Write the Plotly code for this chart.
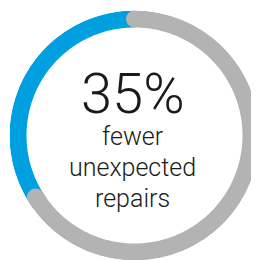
import numpy as np
import plotly.graph_objects as go

# Data
headline_value = 35          # percent
remainder_value = 100 - headline_value
headline_label = "35%"
caption_lines = ["fewer", "unexpected", "repairs"]

BLUE = "#00a0e0"
GRAY = "#b3b3b3"
TEXT = "#1a1a1a"
N = 240
RING_W = 17
OUTER_PX = 125
RING_R = (OUTER_PX - RING_W / 2) / OUTER_PX   # ring centre-line radius (radial range 0..1)
# round end cap of the grey track, expressed as an angle along the ring
CAP_DEG = np.degrees((RING_W / 2) / (OUTER_PX - RING_W / 2))

blue_theta = np.linspace(0, -headline_value / 100 * 360, N)
gray_theta = np.linspace(0, remainder_value / 100 * 360 + CAP_DEG, N)

fig = go.Figure()
fig.add_trace(go.Scatterpolar(
    r=np.full(N, RING_R), theta=blue_theta, mode="lines",
    line=dict(color=BLUE, width=RING_W), cliponaxis=False, hoverinfo="skip"))
fig.add_trace(go.Scatterpolar(
    r=np.full(N, RING_R), theta=gray_theta, mode="lines",
    line=dict(color=GRAY, width=RING_W), cliponaxis=False, hoverinfo="skip"))
fig.add_trace(go.Scatterpolar(
    r=[RING_R, RING_R], theta=[gray_theta[0], gray_theta[-1]], mode="markers",
    marker=dict(color=GRAY, size=RING_W, line=dict(width=0)), cliponaxis=False, hoverinfo="skip"))

W, H = 259, 260
# the page body has an 8px default margin, so positions are in figure pixels
cx, cy = 126.5, 127.5
text_x = 124.5
annotations = [
    dict(text=headline_label, x=text_x / W, y=(H - 86) / H, xref="paper", yref="paper",
         showarrow=False, xanchor="center", yanchor="middle",
         font=dict(family="Roboto", size=56, color=TEXT, weight=300)),
]
for line, ymid in zip(caption_lines, [128.5, 159.5, 190]):
    annotations.append(dict(
        text=line, x=text_x / W, y=(H - ymid) / H, xref="paper", yref="paper",
        showarrow=False, xanchor="center", yanchor="middle",
        font=dict(family="Roboto", size=25, color=TEXT, weight=300)))

fig.update_layout(
    width=W, height=H, margin=dict(l=0, r=0, t=0, b=0),
    paper_bgcolor="white", plot_bgcolor="white", showlegend=False,
    polar=dict(
        domain=dict(x=[(cx - OUTER_PX) / W, (cx + OUTER_PX) / W],
                    y=[(H - cy - OUTER_PX) / H, (H - cy + OUTER_PX) / H]),
        bgcolor="rgba(0,0,0,0)",
        radialaxis=dict(range=[0, 1], visible=False),
        angularaxis=dict(rotation=90, direction="clockwise", visible=False),
    ),
    annotations=annotations,
)
fig.write_html("out.html")
